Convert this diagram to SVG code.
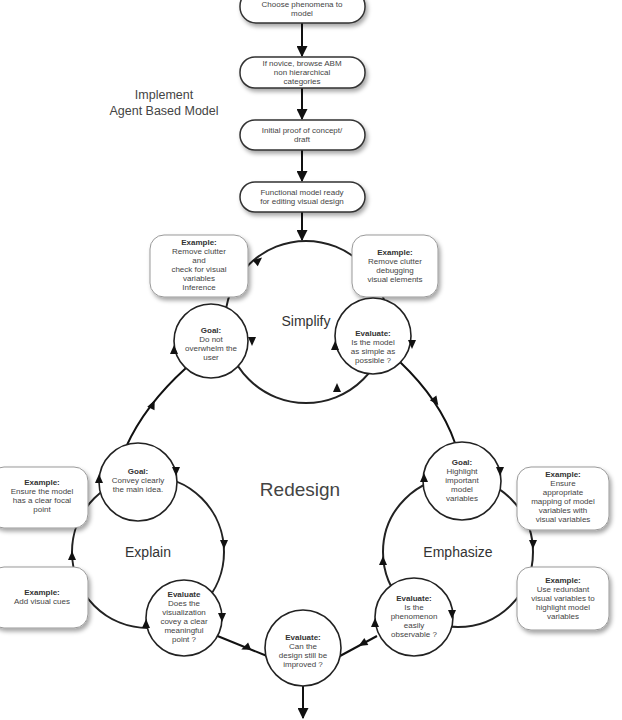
<svg xmlns="http://www.w3.org/2000/svg" width="622" height="720" viewBox="0 0 622 720">
<style>
text{font-family:"Liberation Sans",Arial,sans-serif;fill:#444;text-anchor:middle}
.pill{fill:#fff;stroke:#333;stroke-width:1.5}
.ex{fill:#fff;stroke:#999;stroke-width:1}
.c{fill:#fff;stroke:#222;stroke-width:2}
.cs{fill:#fff;stroke:#222;stroke-width:1.6}
.ln{fill:none;stroke:#111;stroke-width:2}
.t{font-size:8px}
.tb{font-size:8px;font-weight:bold;fill:#333}
.big{font-size:14px;fill:#333}
</style>
<defs>
<filter id="sh" x="-20%" y="-20%" width="150%" height="160%"><feDropShadow dx="2" dy="3" stdDeviation="2" flood-color="#000" flood-opacity="0.35"/></filter>
<marker id="ar" viewBox="0 0 10 10" refX="9" refY="5" markerWidth="5.5" markerHeight="5.5" orient="auto"><path d="M0,0L10,5L0,10z" fill="#111"/></marker>
<path id="tri" d="M-4,-5L4,-5L0,4z" fill="#111"/>
</defs>

<g id="connectors">
<line class="ln" x1="302" y1="23" x2="302" y2="56" marker-end="url(#ar)"/>
<line class="ln" x1="302" y1="88" x2="302" y2="119" marker-end="url(#ar)"/>
<line class="ln" x1="302" y1="150" x2="302" y2="181" marker-end="url(#ar)"/>
<line class="ln" x1="302" y1="212" x2="302" y2="240" marker-end="url(#ar)"/>
<path class="ln" d="M186,368 Q145,405 126,447"/>
<path class="ln" d="M400,362 Q440,400 455,443"/>
<path class="ln" d="M215,635 L267,656"/>
<path class="ln" d="M377,636 L340,656"/>
<line class="ln" x1="303" y1="686" x2="303" y2="718" marker-end="url(#ar)"/>
<use href="#tri" transform="translate(153,404) rotate(205)"/>
<use href="#tri" transform="translate(436,402) rotate(-35)"/>
<use href="#tri" transform="translate(245,648) rotate(68)"/>
<use href="#tri" transform="translate(362,644) rotate(60)"/>
</g>

<g id="title">
<text x="164" y="99" style="font-size:12.5px">Implement</text>
<text x="164" y="115" style="font-size:12.5px">Agent Based Model</text>
<text x="300" y="496" style="font-size:19px">Redesign</text>
</g>

<g id="n1"><rect class="pill" x="240" y="-10" width="125" height="33" rx="16" filter="url(#sh)"/><text class="t" x="302" y="7">Choose phenomena to</text><text class="t" x="302" y="16">model</text></g>
<g id="n2"><rect class="pill" x="240" y="57" width="125" height="31" rx="15" filter="url(#sh)"/><text class="t" x="302" y="66">If novice, browse ABM</text><text class="t" x="302" y="75">non hierarchical</text><text class="t" x="302" y="84">categories</text></g>
<g id="n3"><rect class="pill" x="240" y="120" width="125" height="30" rx="15" filter="url(#sh)"/><text class="t" x="302" y="133">Initial proof of concept/</text><text class="t" x="302" y="142">draft</text></g>
<g id="n4"><rect class="pill" x="240" y="182" width="125" height="30" rx="15" filter="url(#sh)"/><text class="t" x="302" y="195">Functional model ready</text><text class="t" x="302" y="204">for editing visual design</text></g>

<g id="simplify"><circle class="c" cx="306" cy="322" r="81"/><text class="big" x="306" y="326">Simplify</text>
<use href="#tri" transform="translate(259,260) rotate(-130)"/><use href="#tri" transform="translate(337,387) rotate(180)"/></g>
<g id="ex-s1"><rect class="ex" x="150" y="235" width="98" height="62" rx="14" filter="url(#sh)"/><text class="tb" x="199" y="245">Example:</text><text class="t" x="199" y="254">Remove clutter</text><text class="t" x="199" y="263">and</text><text class="t" x="199" y="272">check for visual</text><text class="t" x="199" y="281">variables</text><text class="t" x="199" y="290">Inference</text></g>
<g id="ex-s2"><rect class="ex" x="352" y="235" width="86" height="62" rx="14" filter="url(#sh)"/><text class="tb" x="395" y="255">Example:</text><text class="t" x="395" y="264">Remove clutter</text><text class="t" x="395" y="273">debugging</text><text class="t" x="395" y="282">visual elements</text></g>
<g id="s-goal"><circle class="cs" cx="211" cy="341" r="37"/><text class="tb" x="211" y="333">Goal:</text><text class="t" x="211" y="342">Do not</text><text class="t" x="211" y="351">overwhelm the</text><text class="t" x="211" y="360">user</text>
<use href="#tri" transform="translate(174,349) rotate(180)"/><use href="#tri" transform="translate(252,342)"/></g>
<g id="s-eval"><circle class="cs" cx="373" cy="336" r="38"/><text class="tb" x="373" y="336">Evaluate:</text><text class="t" x="373" y="345">Is the model</text><text class="t" x="373" y="354">as simple as</text><text class="t" x="373" y="363">possible ?</text>
<use href="#tri" transform="translate(335,345) rotate(180)"/><use href="#tri" transform="translate(412,345)"/></g>

<g id="explain"><circle class="c" cx="148" cy="552" r="76"/><text class="big" x="148" y="557">Explain</text>
<use href="#tri" transform="translate(224,545)"/><use href="#tri" transform="translate(72,555) rotate(180)"/></g>
<g id="e-goal"><circle class="cs" cx="138" cy="482" r="39"/><text class="tb" x="138" y="474">Goal:</text><text class="t" x="138" y="483">Convey clearly</text><text class="t" x="138" y="492">the main idea.</text>
<use href="#tri" transform="translate(99,478) rotate(180)"/><use href="#tri" transform="translate(176,472)"/></g>
<g id="e-eval"><circle class="cs" cx="184" cy="618" r="38"/><text class="tb" x="184" y="597">Evaluate</text><text class="t" x="184" y="606">Does the</text><text class="t" x="184" y="615">visualization</text><text class="t" x="184" y="624">covey a clear</text><text class="t" x="184" y="633">meaningful</text><text class="t" x="184" y="642">point ?</text>
<use href="#tri" transform="translate(146,623) rotate(180)"/><use href="#tri" transform="translate(222,618)"/></g>
<g id="ex-e1"><rect class="ex" x="-10" y="467" width="98" height="61" rx="14" filter="url(#sh)"/><text class="tb" x="42" y="485">Example:</text><text class="t" x="42" y="494">Ensure the model</text><text class="t" x="42" y="503">has a clear focal</text><text class="t" x="42" y="512">point</text></g>
<g id="ex-e2"><rect class="ex" x="-10" y="567" width="98" height="61" rx="14" filter="url(#sh)"/><text class="tb" x="42" y="595">Example:</text><text class="t" x="42" y="604">Add visual cues</text></g>

<g id="emphasize"><circle class="c" cx="458" cy="552" r="75"/><text class="big" x="458" y="557">Emphasize</text>
<use href="#tri" transform="translate(533,545)"/><use href="#tri" transform="translate(383,560) rotate(180)"/></g>
<g id="m-goal"><circle class="cs" cx="462" cy="481" r="39"/><text class="tb" x="462" y="465">Goal:</text><text class="t" x="462" y="474">Highlight</text><text class="t" x="462" y="483">important</text><text class="t" x="462" y="492">model</text><text class="t" x="462" y="501">variables</text>
<use href="#tri" transform="translate(424,477) rotate(180)"/><use href="#tri" transform="translate(500,472)"/></g>
<g id="m-eval"><circle class="cs" cx="414" cy="617" r="39"/><text class="tb" x="414" y="601">Evaluate:</text><text class="t" x="414" y="610">Is the</text><text class="t" x="414" y="619">phenomenon</text><text class="t" x="414" y="628">easily</text><text class="t" x="414" y="637">observable ?</text>
<use href="#tri" transform="translate(375,622) rotate(180)"/><use href="#tri" transform="translate(452,615)"/></g>
<g id="ex-m1"><rect class="ex" x="517" y="467" width="92" height="63" rx="14" filter="url(#sh)"/><text class="tb" x="563" y="477">Example:</text><text class="t" x="563" y="486">Ensure</text><text class="t" x="563" y="495">appropriate</text><text class="t" x="563" y="504">mapping of model</text><text class="t" x="563" y="513">variables with</text><text class="t" x="563" y="522">visual variables</text></g>
<g id="ex-m2"><rect class="ex" x="517" y="567" width="92" height="63" rx="14" filter="url(#sh)"/><text class="tb" x="563" y="583">Example:</text><text class="t" x="563" y="592">Use redundant</text><text class="t" x="563" y="601">visual variables to</text><text class="t" x="563" y="610">highlight model</text><text class="t" x="563" y="619">variables</text></g>

<g id="b-eval"><circle class="cs" cx="303" cy="648" r="38"/><text class="tb" x="303" y="640">Evaluate:</text><text class="t" x="303" y="649">Can the</text><text class="t" x="303" y="658">design still be</text><text class="t" x="303" y="667">improved ?</text></g>
</svg>
